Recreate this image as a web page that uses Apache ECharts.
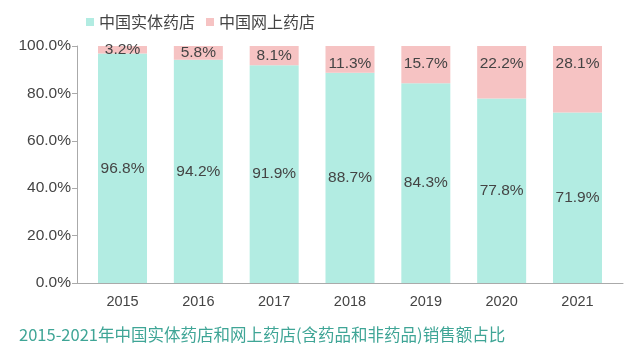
<!DOCTYPE html>
<html><head><meta charset="utf-8">
<script src="https://cdn.jsdelivr.net/npm/echarts@6/dist/echarts.min.js"></script>
<style>html,body{margin:0;padding:0;background:#fff}#c{width:640px;height:358px}</style>
</head><body><div id="c"></div>
<script>
const years = ['2015','2016','2017','2018','2019','2020','2021'];
const physical = [96.8, 94.2, 91.9, 88.7, 84.3, 77.8, 71.9];
const online = [3.2, 5.8, 8.1, 11.3, 15.7, 22.2, 28.1];
const yTicks = [0, 20, 40, 60, 80, 100];
const titleText = '2015-2021年中国实体药店和网上药店(含药品和非药品)销售额占比';
const cjk = '"Noto Sans CJK SC", "Noto Sans", sans-serif';
const num = '"Liberation Sans", Arial, sans-serif';
const fmt = p => p.value.toFixed(1) + '%';
const onlineData = online.map(v => ({
  value: v,
  label: v < 10 ? {position: 'inside'} : {position: 'insideTop', distance: 10}
}));
const chart = echarts.init(document.getElementById('c'));
chart.setOption({
  animation: false,
  textStyle: {fontFamily: num},
  title: {text: titleText, left: 14, top: 321, textStyle: {fontSize: 16.5, fontWeight: 'normal', color: '#3fa596', fontFamily: cjk}},
  legend: {left: 81, top: 9, itemWidth: 8, itemHeight: 8, itemGap: 11, icon: 'rect',
    textStyle: {fontSize: 16, color: '#444', fontFamily: cjk},
    data: ['中国实体药店','中国网上药店']},
  grid: [
    {left: 84.6, right: 24.6, top: 46, bottom: 75},
    {left: 77, right: 17, top: 46, bottom: 75}
  ],
  xAxis: [
    {type: 'category', data: years, gridIndex: 0,
     axisLine: {show: false}, axisTick: {show: false},
     axisLabel: {fontSize: 14.5, color: '#444', margin: 11, fontFamily: num}},
    {type: 'value', gridIndex: 1, min: 0, max: 1,
     axisLine: {show: true, lineStyle: {color: '#aaa'}}, axisTick: {show: false},
     axisLabel: {show: false}, splitLine: {show: false}}
  ],
  yAxis: [
    {type: 'value', gridIndex: 0, min: 0, max: 100, interval: 20, offset: 7.6,
     axisLine: {show: true, lineStyle: {color: '#aaa'}}, axisTick: {show: true, length: 5, lineStyle: {color: '#aaa'}},
     splitLine: {show: false},
     axisLabel: {fontSize: 15.5, color: '#444', margin: 6, fontFamily: num, formatter: v => v.toFixed(1) + '%'}},
    {type: 'value', gridIndex: 1, min: 0, max: 1, show: false}
  ],
  series: [
    {name: '中国实体药店', type: 'bar', stack: 's', barWidth: 49, data: physical,
     itemStyle: {color: '#b2ece2'},
     label: {show: true, position: 'inside', fontSize: 15.5, color: '#444', fontFamily: num, formatter: fmt}},
    {name: '中国网上药店', type: 'bar', stack: 's', barWidth: 49, data: onlineData,
     itemStyle: {color: '#f6c3c3'},
     label: {show: true, fontSize: 15.5, color: '#444', fontFamily: num, formatter: fmt}}
  ]
});
</script></body></html>
